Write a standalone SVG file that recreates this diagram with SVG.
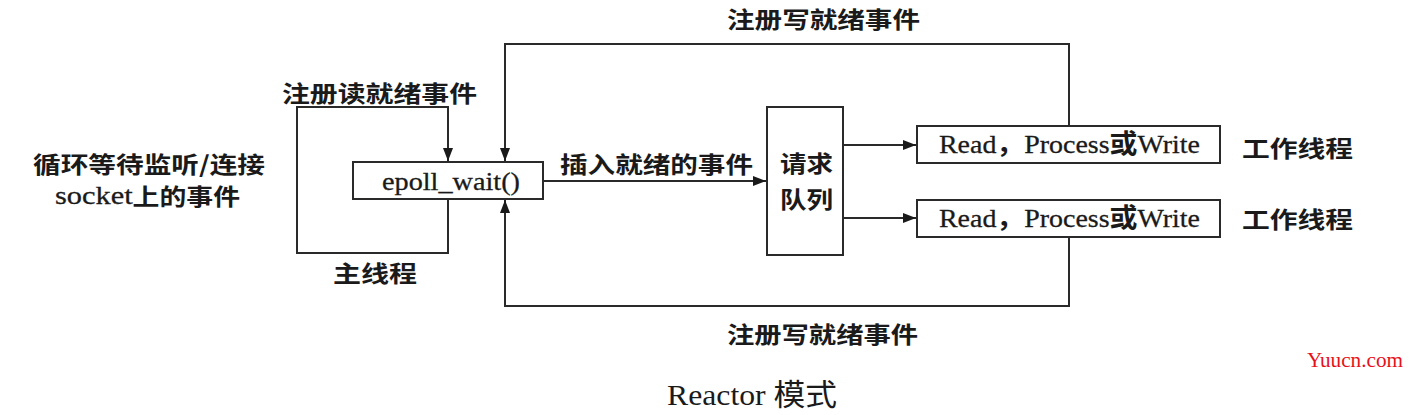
<svg xmlns="http://www.w3.org/2000/svg" width="1416" height="415" viewBox="0 0 1416 415">
<defs>
<style>
.box{fill:#fff;stroke:#2a2a2a;stroke-width:2}
.ln{fill:none;stroke:#2a2a2a;stroke-width:2}
.cn{font-family:"Noto Sans CJK SC",sans-serif;font-weight:bold;font-size:23px;fill:#1a1a1a;dominant-baseline:central}
.lt{font-family:"Liberation Serif",serif;font-size:26px;fill:#1a1a1a;stroke:#1a1a1a;stroke-width:0.3}
.ck{font-family:"Noto Sans CJK SC",sans-serif;font-weight:bold;stroke:none}
</style>
<marker id="arr" markerUnits="userSpaceOnUse" markerWidth="14" markerHeight="10" refX="13" refY="5" orient="auto">
<path d="M0,0 L13,5 L0,10 Z" fill="#1a1a1a"/>
</marker>
</defs>
<rect width="1416" height="415" fill="#fff"/>

<g id="connectors">
<path class="ln" d="M448,199 V253 H297 V107 H448 V161" marker-end="url(#arr)"/>
<path class="ln" d="M1069,126 V44 H505 V161" marker-end="url(#arr)"/>
<path class="ln" d="M1069,237 V306 H505 V200" marker-end="url(#arr)"/>
<path class="ln" d="M543,181 H766" marker-end="url(#arr)"/>
<path class="ln" d="M843,145 H916" marker-end="url(#arr)"/>
<path class="ln" d="M843,218 H916" marker-end="url(#arr)"/>
</g>

<g id="label-register-read"><text class="cn" x="282" y="92" textLength="195" lengthAdjust="spacingAndGlyphs">注册读就绪事件</text></g>
<g id="label-main-thread"><text class="cn" x="333" y="272" textLength="84" lengthAdjust="spacingAndGlyphs">主线程</text></g>
<g id="label-register-write-top"><text class="cn" x="727" y="18" textLength="193" lengthAdjust="spacingAndGlyphs">注册写就绪事件</text></g>
<g id="label-register-write-bottom"><text class="cn" x="727" y="333" textLength="191" lengthAdjust="spacingAndGlyphs">注册写就绪事件</text></g>
<g id="label-insert"><text class="cn" x="560" y="163" textLength="193" lengthAdjust="spacingAndGlyphs">插入就绪的事件</text></g>

<g id="label-loop">
<text class="cn" x="33" y="163" textLength="232" lengthAdjust="spacingAndGlyphs">循环等待监听/连接</text>
<text class="cn" x="55" y="195" textLength="185" lengthAdjust="spacingAndGlyphs"><tspan style="font-family:'Liberation Serif',serif;font-weight:normal;font-size:26px;stroke:#1a1a1a;stroke-width:0.3">socket</tspan>上的事件</text>
</g>

<g id="epoll-wait">
<rect class="box" x="353" y="162" width="190" height="37"/>
<text class="lt" x="382" y="190" textLength="138" lengthAdjust="spacingAndGlyphs">epoll_wait()</text>
</g>

<g id="request-queue">
<rect class="box" x="767" y="107" width="76" height="148"/>
<text class="cn" x="780" y="162" textLength="53" lengthAdjust="spacingAndGlyphs">请求</text>
<text class="cn" x="780" y="198" textLength="53" lengthAdjust="spacingAndGlyphs">队列</text>
</g>

<g id="worker-1">
<rect class="box" x="917" y="126" width="303" height="37"/>
<text class="lt" x="939" y="153" textLength="261" lengthAdjust="spacingAndGlyphs">Read<tspan class="ck">，</tspan>Process<tspan class="ck">或</tspan>Write</text>
<text class="cn" x="1242" y="147" textLength="111" lengthAdjust="spacingAndGlyphs">工作线程</text>
</g>

<g id="worker-2">
<rect class="box" x="917" y="200" width="303" height="37"/>
<text class="lt" x="939" y="227" textLength="261" lengthAdjust="spacingAndGlyphs">Read<tspan class="ck">，</tspan>Process<tspan class="ck">或</tspan>Write</text>
<text class="cn" x="1242" y="218" textLength="111" lengthAdjust="spacingAndGlyphs">工作线程</text>
</g>

<g id="caption">
<text x="667" y="405" textLength="170" lengthAdjust="spacingAndGlyphs" style="font-family:'Liberation Serif',serif;font-size:30px;fill:#1a1a1a">Reactor <tspan style="font-family:'Noto Sans CJK SC',sans-serif">模式</tspan></text>
</g>

<g id="watermark">
<text x="1307" y="367" textLength="96" lengthAdjust="spacingAndGlyphs" style="font-family:'Liberation Serif',serif;font-size:21px;fill:#e8101a">Yuucn.com</text>
</g>
</svg>
